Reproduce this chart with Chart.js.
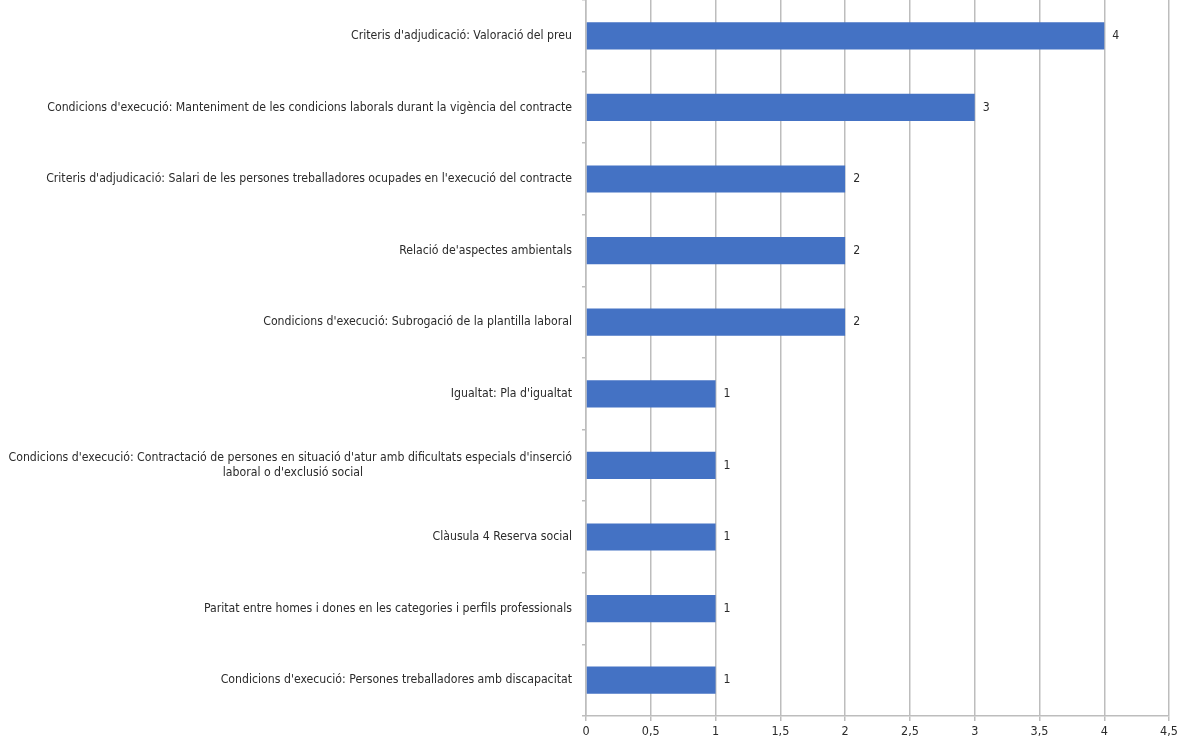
<!DOCTYPE html>
<html>
<head>
<meta charset="utf-8">
<script src="https://cdn.jsdelivr.net/npm/chart.js@4/dist/chart.umd.min.js"></script>
<style>
  html, body { margin: 0; padding: 0; background: #fff; }
  #wrap { width: 1181px; height: 740px; }
</style>
</head>
<body>
<div id="wrap"><canvas id="grafic"></canvas></div>
<script>
var FONT = "'Liberation Sans Narrow', 'DejaVu Sans Condensed', sans-serif";
var FONT_SIZE = 12.2;

var categories = [
  "Criteris d'adjudicació: Valoració del preu",
  "Condicions d'execució: Manteniment de les condicions laborals durant la vigència del contracte",
  "Criteris d'adjudicació: Salari de les persones treballadores ocupades en l'execució del contracte",
  "Relació de'aspectes ambientals",
  "Condicions d'execució: Subrogació de la plantilla laboral",
  "Igualtat: Pla d'igualtat",
  ["Condicions d'execució: Contractació de persones en situació d'atur amb dificultats especials d'inserció",
   "laboral o d'exclusió social"],
  "Clàusula 4 Reserva social",
  "Paritat entre homes i dones en les categories i perfils professionals",
  "Condicions d'execució: Persones treballadores amb discapacitat"
];
var valors = [4, 3, 2, 2, 2, 1, 1, 1, 1, 1];
var ticksX = [0, 0.5, 1, 1.5, 2, 2.5, 3, 3.5, 4, 4.5];

// centra la segona línia de l'etiqueta llarga sota la primera (les etiquetes van alineades a la dreta)
var ctxMesura = document.createElement('canvas').getContext('2d');
ctxMesura.font = FONT_SIZE + "px " + FONT;
categories = categories.map(function(c) {
  if (!Array.isArray(c)) return c;
  var w0 = ctxMesura.measureText(c[0]).width;
  var objectiu = (w0 + ctxMesura.measureText(c[1]).width) / 2;
  var linia = c[1];
  while (ctxMesura.measureText(linia + '\u00a0').width <= objectiu) {
    linia += '\u00a0';
  }
  return [c[0], linia];
});

var etiquetesValor = {
  id: 'etiquetesValor',
  afterDatasetsDraw: function(chart) {
    var ctx = chart.ctx;
    ctx.save();
    ctx.font = FONT_SIZE + "px " + FONT;
    ctx.fillStyle = '#2b2b2b';
    ctx.textAlign = 'left';
    ctx.textBaseline = 'middle';
    chart.getDatasetMeta(0).data.forEach(function(bar, i) {
      ctx.fillText(String(valors[i]).replace('.', ','), bar.x + 8, bar.y);
    });
    ctx.restore();
  }
};

new Chart(document.getElementById('grafic'), {
  type: 'bar',
  data: {
    labels: categories,
    datasets: [{
      data: valors,
      backgroundColor: '#4472C4',
      barPercentage: 0.38,
      categoryPercentage: 1
    }]
  },
  options: {
    indexAxis: 'y',
    responsive: true,
    maintainAspectRatio: false,
    animation: false,
    layout: { padding: { top: 0, right: 7, left: 0, bottom: 0 } },
    plugins: {
      legend: { display: false },
      tooltip: { enabled: false }
    },
    scales: {
      x: {
        min: 0,
        max: 4.5,
        afterBuildTicks: function(scale) {
          scale.ticks = ticksX.map(function(v) { return { value: v }; });
        },
        afterFit: function(scale) { scale.height = 24; },
        grid: { color: '#bdbdbd', lineWidth: 1.5, tickLength: 5 },
        border: { color: '#bdbdbd', width: 1.5 },
        ticks: {
          color: '#2b2b2b',
          font: { family: FONT, size: 12.5 },
          padding: 3,
          maxRotation: 0,
          callback: function(v) { return String(v).replace('.', ','); }
        }
      },
      y: {
        afterFit: function(scale) {
          scale.width = 586;
          scale.paddingTop = 0;
          scale.paddingBottom = 0;
        },
        grid: { drawOnChartArea: false, offset: true, color: '#bdbdbd', lineWidth: 1.5, tickLength: 4 },
        border: { color: '#bdbdbd', width: 1.5 },
        ticks: {
          color: '#2b2b2b',
          font: { family: FONT, size: FONT_SIZE },
          padding: 10,
          autoSkip: false
        }
      }
    }
  },
  plugins: [etiquetesValor]
});
</script>
</body>
</html>
